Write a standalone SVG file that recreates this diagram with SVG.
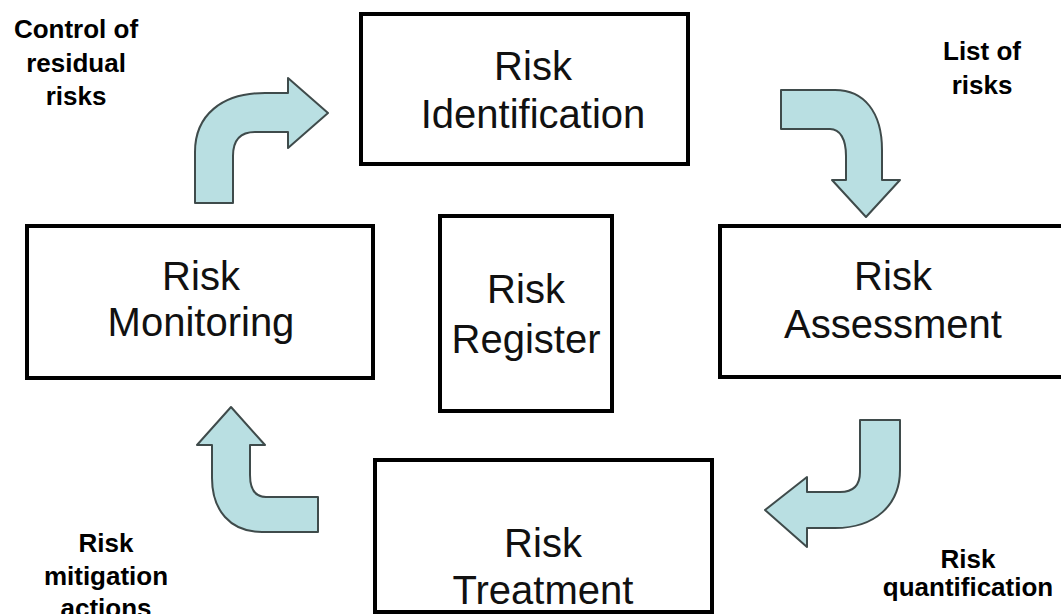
<svg xmlns="http://www.w3.org/2000/svg" width="1061" height="614" viewBox="0 0 1061 614">
<style>
.box{fill:#fff;stroke:#000;stroke-width:4}
.node{font-family:"Liberation Sans",Arial,sans-serif;font-size:40px;fill:#111;text-anchor:middle}
.lbl{font-family:"Liberation Sans",Arial,sans-serif;font-size:26px;font-weight:bold;fill:#000;text-anchor:middle}
.arr{fill:#b9dfe2;stroke:#3f4b4b;stroke-width:2;stroke-linejoin:round}
</style>
<rect width="1061" height="614" fill="#fff"/>
<g id="risk-identification">
<rect class="box" x="361" y="14" width="327" height="150"/>
<text class="node" x="533" y="80">Risk</text>
<text class="node" x="533" y="128">Identification</text>
</g>
<g id="risk-monitoring">
<rect class="box" x="27" y="226" width="346" height="152"/>
<text class="node" x="201" y="290">Risk</text>
<text class="node" x="201" y="336">Monitoring</text>
</g>
<g id="risk-register">
<rect class="box" x="440" y="216" width="172" height="195"/>
<text class="node" x="526" y="303">Risk</text>
<text class="node" x="526" y="353">Register</text>
</g>
<g id="risk-assessment">
<rect class="box" x="720" y="226" width="345" height="151"/>
<text class="node" x="893" y="290">Risk</text>
<text class="node" x="893" y="338">Assessment</text>
</g>
<g id="risk-treatment">
<rect class="box" x="375" y="460" width="337" height="152"/>
<text class="node" x="543" y="557">Risk</text>
<text class="node" x="543" y="604">Treatment</text>
</g>
<g id="connectors">
<path class="arr" d="M195,203 L195,152 C195,115 222,93 265,93 L288,93 L288,78 L328,113 L288,148 L288,132 L255,132 C241,132 233,140 233,156 L233,203 Z"/>
<path class="arr" d="M781,90 L835,90 C864,90 882,112 882,150 L882,180 L900,180 L866,217 L832,180 L846,180 L846,156 C846,139 840,129 830,129 L781,129 Z"/>
<path class="arr" d="M860,420 L900,420 L900,470 C900,505 875,528 835,528 L807,528 L807,547 L765,510 L807,477 L807,492 L840,492 C853,492 860,485 860,472 Z"/>
<path class="arr" d="M318,497 L318,532 L262,532 C230,532 212,510 212,478 L212,445 L197,445 L231,407 L265,445 L250,445 L250,475 C250,490 256,497 266,497 Z"/>
</g>
<g id="labels">
<text class="lbl" x="76" y="38">Control of</text>
<text class="lbl" x="76" y="72">residual</text>
<text class="lbl" x="76" y="105">risks</text>
<text class="lbl" x="982" y="60">List of</text>
<text class="lbl" x="982" y="94">risks</text>
<text class="lbl" x="968" y="568">Risk</text>
<text class="lbl" x="968" y="596">quantification</text>
<text class="lbl" x="106" y="552">Risk</text>
<text class="lbl" x="106" y="585">mitigation</text>
<text class="lbl" x="106" y="617">actions</text>
</g>
</svg>
